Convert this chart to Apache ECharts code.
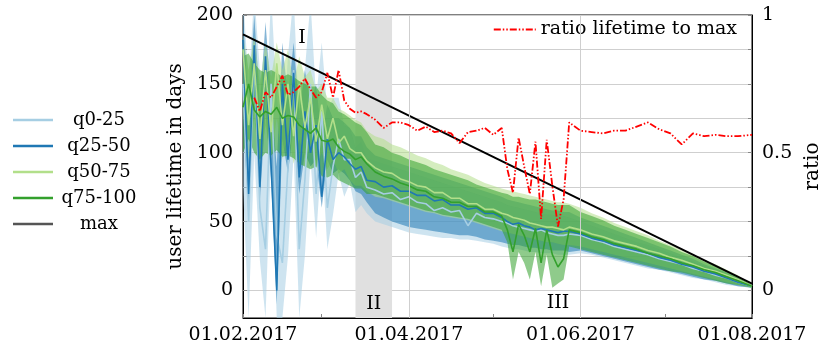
<!DOCTYPE html>
<html>
<head>
<meta charset="utf-8">
<script src="https://cdn.jsdelivr.net/npm/echarts@6/dist/echarts.min.js"></script>
<style>
  html, body { margin: 0; padding: 0; background: #fff; }
  #chart { width: 831px; height: 352px; }
</style>
</head>
<body>
<div id="chart"></div>
<script>
// day offsets from 01.02.2017
const days = [0, 2, 4, 6, 8, 10, 12, 14, 16, 18, 20, 22, 24, 26, 28, 30, 32, 34, 36, 38, 40, 42, 44,
  47, 50, 53, 56, 59, 62, 65, 68, 71, 74, 77, 80, 83, 86, 89, 92,
  94, 96, 98, 100, 102, 104, 106, 108, 110, 112, 114, 116,
  120, 124, 128, 132, 136, 140, 144, 148, 152, 156, 160, 164, 168, 172, 176, 181];

// q0-25
const q0Mid = [150, 50, 170, 60, 30, 150, 40, 20, 90, 160, 30, 80, 150, 70, 130, 60, 90, 110, 95, 95, 82, 86, 75,
  73, 70, 71, 66, 68, 64, 63, 58, 60, 57, 58, 47, 56, 53, 52, 50,
  49, 47, 46, 45, 44, 43, 44, 42, 41, 40, 40, 41,
  40, 37, 35, 32, 30, 28, 26, 23, 21, 19, 16, 14, 11, 9, 6, 3];
const q0Lo = [75, -20, 100, 22, -20, 100, -20, -20, 25, 100, -20, 25, 95, 38, 100, 30, 55, 85, 68, 78, 57, 62, 56,
  50, 48, 46, 44, 42, 41, 40, 39, 38, 38, 37, 37, 36, 35, 34, 32,
  31, 30, 30, 29, 28, 28, 27, 27, 27, 26, 26, 26,
  27, 26, 24, 22, 20, 18, 16, 15, 13, 11, 9, 8, 6, 4, 3, 2];
const q0Hi = [215, 150, 215, 160, 120, 215, 140, 110, 170, 215, 120, 160, 210, 140, 180, 130, 140, 140, 120, 118, 104, 108, 96,
  94, 92, 90, 88, 86, 84, 82, 80, 78, 76, 74, 72, 70, 68, 66, 64,
  62, 61, 60, 59, 58, 57, 56, 55, 55, 54, 54, 53,
  50, 47, 44, 41, 38, 35, 33, 30, 27, 24, 21, 18, 15, 12, 9, 4];

// q25-50
const q25Mid = [182, 70, 178, 75, 170, 90, 0, 150, 95, 158, 82, 130, 100, 120, 68, 110, 95, 100, 97, 92, 88, 90, 80,
  79, 75, 76, 72, 72, 69, 69, 65, 66, 62, 62, 59, 60, 56, 56, 53,
  50, 48, 49, 47, 46, 44, 45, 44, 43, 42, 43, 43,
  41, 38, 36, 33, 31, 29, 27, 24, 22, 19, 17, 14, 12, 9, 6, 3];
const q25Lo = [120, 60, 140, 65, 130, 80, -10, 110, 85, 120, 70, 100, 90, 95, 60, 95, 85, 88, 85, 80, 72, 70, 64,
  56, 53, 50, 48, 46, 45, 44, 43, 42, 41, 40, 40, 39, 37, 36, 35,
  34, 33, 33, 32, 31, 31, 30, 30, 29, 29, 29, 28,
  29, 27, 25, 23, 21, 19, 17, 15, 14, 12, 10, 8, 7, 5, 3, 2];
const q25Hi = [200, 130, 200, 135, 195, 140, 90, 180, 140, 180, 130, 160, 135, 150, 110, 135, 125, 125, 122, 118, 112, 112, 104,
  98, 96, 94, 92, 90, 88, 86, 84, 82, 80, 78, 76, 74, 72, 70, 68,
  66, 65, 64, 63, 62, 61, 60, 59, 58, 58, 57, 57,
  53, 50, 47, 44, 41, 38, 35, 32, 29, 26, 23, 19, 16, 13, 9, 4];

// q50-75
const q50Mid = [175, 120, 165, 110, 160, 115, 165, 120, 150, 112, 150, 118, 140, 108, 135, 110, 125, 107, 112, 103, 100, 100, 94,
  89, 86, 85, 81, 79, 76, 75, 71, 71, 67, 67, 63, 63, 59, 59, 56,
  55, 53, 52, 51, 49, 48, 47, 46, 46, 45, 44, 46,
  44, 41, 39, 36, 34, 32, 29, 27, 24, 22, 19, 16, 14, 11, 8, 3];
const q50Lo = [130, 95, 125, 90, 120, 95, 125, 95, 115, 92, 110, 95, 105, 90, 100, 88, 95, 85, 88, 80, 76, 76, 72,
  68, 67, 65, 63, 61, 59, 57, 56, 54, 53, 52, 51, 49, 47, 45, 43,
  42, 41, 40, 39, 38, 37, 36, 35, 35, 34, 33, 33,
  32, 30, 28, 26, 24, 22, 20, 18, 16, 14, 12, 10, 8, 6, 4, 2];
const q50Hi = [185, 160, 185, 150, 180, 155, 180, 160, 175, 150, 170, 155, 160, 145, 150, 140, 140, 132, 130, 127, 124, 122, 116,
  112, 110, 106, 104, 101, 98, 96, 93, 91, 88, 86, 84, 81, 78, 76, 74,
  73, 72, 71, 70, 69, 68, 67, 66, 65, 64, 64, 63,
  60, 56, 53, 49, 46, 43, 40, 36, 33, 30, 26, 22, 19, 15, 11, 4];

// q75-100
const q75Mid = [133, 150, 131, 126, 130, 128, 133, 125, 127, 126, 120, 117, 114, 118, 109, 108, 110, 104, 101, 99, 95, 97, 92,
  86, 83, 81, 78, 76, 73, 72, 68, 67, 64, 64, 61, 61, 57, 57, 54,
  44, 28, 48, 40, 28, 45, 20, 44, 26, 17, 23, 44,
  42, 39, 37, 34, 32, 30, 27, 25, 23, 20, 18, 15, 13, 10, 7, 3];
const q75Lo = [100, 110, 100, 95, 100, 98, 102, 97, 98, 96, 92, 90, 88, 90, 83, 82, 84, 80, 78, 76, 74, 74, 70,
  70, 68, 66, 64, 62, 60, 58, 57, 55, 54, 53, 52, 50, 48, 46, 44,
  35, 8, 28, 20, 8, 28, 3, 26, 2, 5, 8, 32,
  30, 28, 26, 24, 22, 20, 18, 16, 14, 13, 11, 9, 7, 5, 4, 2];
const q75Hi = [170, 172, 165, 160, 158, 160, 158, 155, 157, 155, 152, 150, 148, 148, 142, 138, 136, 130, 128, 125, 122, 120, 115,
  106, 104, 100, 98, 95, 93, 91, 88, 86, 84, 82, 80, 77, 75, 73, 71,
  70, 68, 68, 67, 66, 66, 65, 64, 63, 62, 62, 62,
  57, 54, 51, 47, 44, 41, 38, 35, 32, 28, 25, 21, 18, 14, 10, 4];

// ratio lifetime to max (right axis)
const ratio = [null, null, 0.70, 0.65, 0.72, 0.70, 0.74, 0.78, 0.71, 0.72, 0.74, 0.77, 0.73, 0.70, 0.72, 0.79, 0.70, 0.80, 0.69, 0.66, 0.645, 0.65, 0.64,
  0.62, 0.59, 0.61, 0.61, 0.60, 0.58, 0.595, 0.575, 0.58, 0.57, 0.535, 0.575, 0.58, 0.59, 0.565, 0.59,
  0.44, 0.355, 0.555, 0.45, 0.35, 0.54, 0.26, 0.547, 0.38, 0.232, 0.33, 0.61,
  0.58, 0.575, 0.57, 0.58, 0.58, 0.595, 0.61, 0.585, 0.57, 0.53, 0.57, 0.56, 0.565, 0.56, 0.56, 0.565];

// max lifetime
const maxDays = [0, 181];
const maxValues = [186, 5];

// x ticks: day offsets of month starts, labels every second month
const xTickDays = [0, 28, 59, 89, 120, 150, 181];
const xLabelDays = [0, 59, 120, 181];
const xTickLabels = ['01.02.2017', '01.04.2017', '01.06.2017', '01.08.2017'];
const leftTicks = [0, 25, 50, 75, 100, 125, 150, 175, 200];
const leftLabels = [0, 50, 100, 150, 200];
const rightTicks = [0, 0.125, 0.25, 0.375, 0.5, 0.625, 0.75, 0.875, 1];
const rightLabels = [0, 0.5, 1];

const phaseII = [40, 53];
const gridDays = [59, 120];

const FONT = 'DejaVu Serif';

function pts(vals, ds) {
  ds = ds || days;
  return ds.map((d, i) => [d, vals[i]]);
}

// shaded band between lo and hi, drawn as one polygon through the axes
function band(name, lo, hi, color) {
  return {
    name: name + ' band', type: 'custom', silent: true, z: 2,
    data: [[0, 0]], encode: { x: 0, y: 1 },
    renderItem: (params, api) => {
      const upper = days.map((d, i) => api.coord([d, hi[i]]));
      const lower = days.map((d, i) => api.coord([d, lo[i]])).reverse();
      const cs = params.coordSys;
      return {
        type: 'polygon',
        shape: { points: upper.concat(lower) },
        style: { fill: color, opacity: 0.55 },
        clipPath: { type: 'rect', shape: { x: cs.x, y: cs.y, width: cs.width, height: cs.height } }
      };
    }
  };
}

function line(name, vals, color) {
  return {
    name: name, type: 'line', data: pts(vals), symbol: 'none', z: 3,
    itemStyle: { color: color },
    lineStyle: { color: color, width: 1.6 }
  };
}

const colors = { q0: '#a6cee3', q25: '#1f78b4', q50: '#b2df8a', q75: '#33a02c' };

const chart = echarts.init(document.getElementById('chart'));

const option = {
  animation: false,
  grid: { left: 243, right: 79, top: 15, bottom: 34, show: true, borderColor: '#000', borderWidth: 1, outerBoundsMode: 'none' },
  legend: [
    {
      data: ['q0-25', 'q25-50', 'q50-75', 'q75-100', { name: 'max', itemStyle: { color: '#555' } }],
      orient: 'vertical', left: 8, top: 104, itemGap: 4,
      icon: 'rect', itemWidth: 40, itemHeight: 2.5, selectedMode: false,
      formatter: name => '{c|' + name + '}',
      textStyle: {
        fontFamily: FONT, fontSize: 18, color: '#000', lineHeight: 22,
        rich: { c: { width: 82, height: 22, align: 'center', fontFamily: FONT, fontSize: 18, lineHeight: 22, color: '#000' } }
      }
    },
    {
      data: ['ratio lifetime to max'],
      right: 88, top: 17, padding: [3, 6, 3, 6],
      itemWidth: 42, itemHeight: 12, itemGap: 6, selectedMode: false,
      backgroundColor: '#fff',
      itemStyle: { opacity: 0 },
      textStyle: { fontFamily: FONT, fontSize: 19, color: '#000' }
    }
  ],
  xAxis: {
    type: 'value', min: 0, max: 181,
    axisLine: { show: true, onZero: false, lineStyle: { color: '#000' } },
    axisTick: { show: true, inside: true, length: 4, customValues: xTickDays, lineStyle: { color: '#888' } },
    axisLabel: {
      customValues: xLabelDays,
      formatter: v => xTickLabels[xLabelDays.indexOf(v)] || '',
      fontFamily: FONT, fontSize: 19, color: '#000', margin: 8
    },
    splitLine: { show: false }
  },
  yAxis: [
    {
      type: 'value', min: -20, max: 200,
      name: 'user lifetime in days', nameLocation: 'middle', nameGap: 55,
      nameTextStyle: { fontFamily: FONT, fontSize: 20, color: '#000' },
      axisLine: { show: true, onZero: false, lineStyle: { color: '#000' } },
      axisTick: { show: true, inside: true, length: 4, customValues: leftTicks, lineStyle: { color: '#888' } },
      axisLabel: { customValues: leftLabels, fontFamily: FONT, fontSize: 19, color: '#000', margin: 10 },
      splitLine: { show: true, lineStyle: { color: '#cfcfcf', width: 1 } }
    },
    {
      type: 'value', min: -0.1, max: 1, position: 'right',
      name: 'ratio', nameLocation: 'middle', nameGap: 48, nameRotate: 90,
      nameTextStyle: { fontFamily: FONT, fontSize: 20, color: '#000' },
      axisLine: { show: true, onZero: false, lineStyle: { color: '#000' } },
      axisTick: { show: true, inside: true, length: 4, customValues: rightTicks, lineStyle: { color: '#888' } },
      axisLabel: { customValues: rightLabels, formatter: v => String(v), fontFamily: FONT, fontSize: 19, color: '#000', margin: 10 },
      splitLine: { show: false }
    }
  ],
  series: [
    {
      name: 'annot', type: 'line', data: pts(maxValues, maxDays), symbol: 'none', silent: true, z: 1,
      lineStyle: { opacity: 0 },
      markArea: {
        silent: true,
        itemStyle: { color: '#e0e0e0' },
        label: { show: true, position: 'insideBottom', distance: 4, fontFamily: FONT, fontSize: 19, color: '#000' },
        data: [[{ name: 'II', xAxis: phaseII[0] }, { xAxis: phaseII[1] }]]
      },
      markLine: {
        silent: true, symbol: ['none', 'none'],
        lineStyle: { color: '#cfcfcf', type: 'solid', width: 1 },
        label: { show: false },
        data: gridDays.map(d => ({ xAxis: d }))
      },
      markPoint: {
        silent: true, symbol: 'rect', symbolSize: 1,
        itemStyle: { color: 'rgba(0,0,0,0)' },
        label: { show: true, position: 'inside', formatter: '{b}', fontFamily: FONT, fontSize: 19, color: '#000' },
        data: [
          { name: 'I', coord: [21, 183] },
          { name: 'III', coord: [112, -9] }
        ]
      }
    },
    band('q0-25', q0Lo, q0Hi, colors.q0),
    band('q25-50', q25Lo, q25Hi, colors.q25),
    band('q50-75', q50Lo, q50Hi, colors.q50),
    band('q75-100', q75Lo, q75Hi, colors.q75),
    line('q0-25', q0Mid, colors.q0),
    line('q25-50', q25Mid, colors.q25),
    line('q50-75', q50Mid, colors.q50),
    line('q75-100', q75Mid, colors.q75),
    {
      name: 'max', type: 'line', data: pts(maxValues, maxDays), symbol: 'none', z: 4,
      itemStyle: { color: '#000' },
      lineStyle: { color: '#000', width: 2 }
    },
    {
      name: 'ratio lifetime to max', type: 'line', yAxisIndex: 1, data: pts(ratio), symbol: 'none', z: 5,
      itemStyle: { color: '#ff0000' },
      lineStyle: { color: '#ff0000', width: 1.8, type: [7, 2, 1.5, 2, 1.5, 2] }
    }
  ]
};

chart.setOption(option);
</script>
</body>
</html>
